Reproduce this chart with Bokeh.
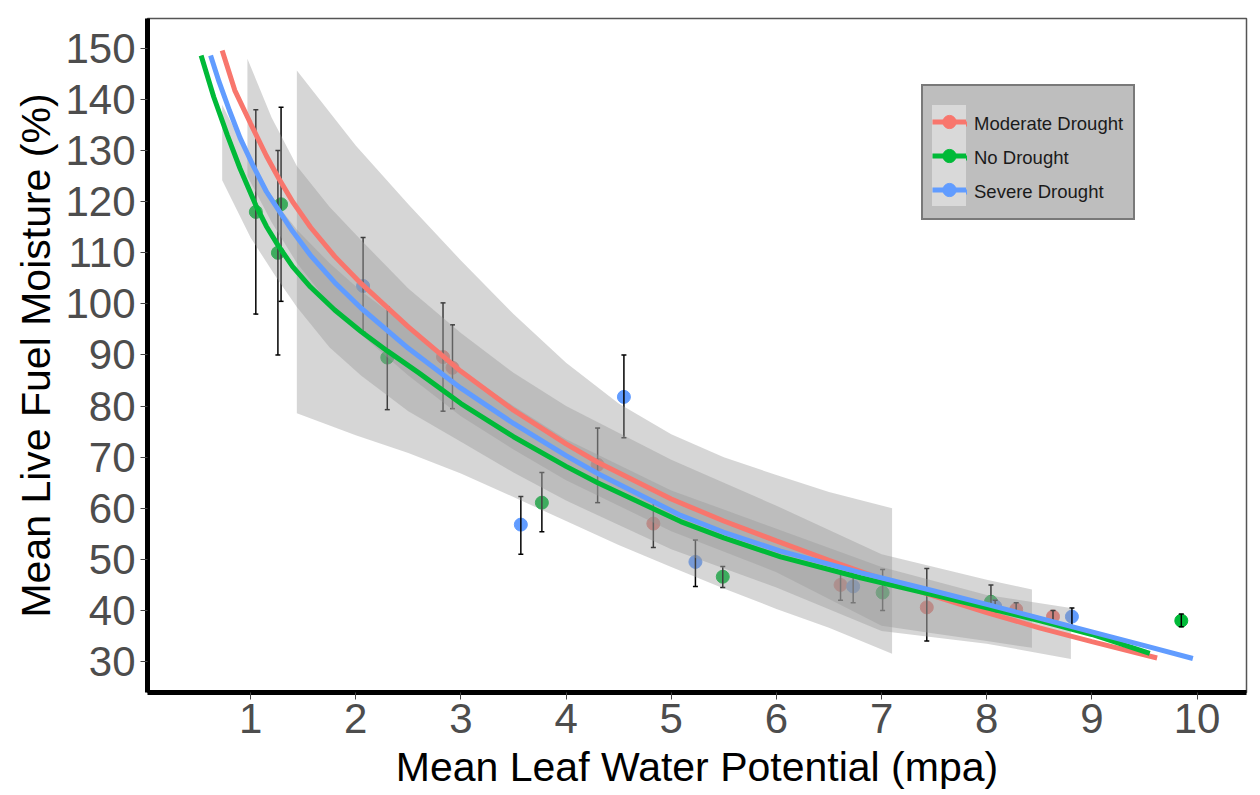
from bokeh.plotting import figure
from bokeh.models import FixedTicker, Legend, LegendItem, Range1d, BoxAnnotation
from bokeh.embed import file_html
from bokeh.resources import INLINE

# ---------------- data ----------------
x_ticks = [1, 2, 3, 4, 5, 6, 7, 8, 9, 10]
y_ticks = [30, 40, 50, 60, 70, 80, 90, 100, 110, 120, 130, 140, 150]

groups = ["Moderate Drought", "No Drought", "Severe Drought"]
colors = ["#F8766D", "#00BA38", "#619CFF"]

# observed means with error bars
mod_x = [2.83, 2.92, 4.30, 4.83, 6.61, 7.43, 8.28, 8.63]
mod_y = [89.6, 87.5, 68.5, 57.0, 45.0, 40.6, 40.2, 38.8]
mod_lo = [79.0, 79.5, 61.1, 52.3, 42.0, 34.0, 39.0, 37.5]
mod_hi = [100.2, 95.9, 75.7, 61.5, 47.5, 48.2, 41.5, 40.0]

no_x = [1.05, 1.26, 1.29, 2.30, 3.77, 5.49, 7.01, 8.04, 9.85]
no_y = [118.0, 110.0, 119.5, 89.5, 61.1, 46.6, 43.5, 41.7, 38.0]
no_lo = [98.0, 90.0, 100.5, 79.3, 55.4, 44.5, 40.0, 39.5, 36.8]
no_hi = [138.0, 130.0, 138.5, 99.4, 67.0, 48.6, 48.0, 45.0, 39.3]

sev_x = [2.07, 3.57, 4.55, 5.23, 6.73, 8.08, 8.81]
sev_y = [103.5, 56.8, 81.8, 49.5, 44.7, 40.8, 38.8]
sev_lo = [94.5, 51.0, 73.8, 44.7, 41.5, 39.5, 37.0]
sev_hi = [113.0, 62.3, 90.0, 53.8, 47.5, 42.0, 40.5]

# fitted curves
mod_fit_x = [0.73, 0.85, 1.0, 1.15, 1.27, 1.4, 1.57, 1.8, 2.05, 2.5, 3.0, 3.5, 4.0,
             4.3, 5.0, 5.5, 6.0, 6.5, 7.0, 7.5, 8.0, 8.5, 9.0, 9.62]
mod_fit_y = [149.6, 141.8, 135.3, 129.0, 124.5, 120.0, 115.0, 109.3, 104.0, 95.5,
             86.8, 79.2, 72.6, 69.0, 61.8, 57.5, 53.6, 49.8, 46.2, 42.8, 39.6, 36.6,
             33.9, 30.7]

no_fit_x = [0.53, 0.65, 0.78, 0.9, 1.05, 1.15, 1.26, 1.4, 1.57, 1.8, 2.05, 2.3, 2.6,
            3.0, 3.5, 4.0, 4.3, 5.09, 5.5, 6.04, 6.8, 7.5, 8.0, 8.5, 9.0, 9.55]
no_fit_y = [148.6, 140.5, 133.0, 126.5, 119.3, 115.2, 111.5, 107.3, 103.3, 98.8,
            94.6, 90.8, 86.5, 80.5, 74.0, 68.2, 65.0, 57.4, 54.2, 50.5, 46.4, 43.0,
            40.5, 38.0, 35.3, 31.6]

sev_fit_x = [0.62, 0.7, 0.8, 0.9, 1.03, 1.15, 1.29, 1.4, 1.57, 1.8, 2.05, 2.5, 3.0,
             3.5, 4.0, 4.3, 5.09, 5.5, 6.04, 6.8, 7.5, 8.0, 8.5, 9.0, 9.5, 9.96]
sev_fit_y = [148.6, 143.5, 137.8, 132.5, 126.8, 122.0, 117.6, 114.2, 109.5, 104.2,
             99.2, 91.3, 83.5, 76.6, 70.3, 66.8, 58.6, 55.3, 51.6, 47.4, 43.8, 41.2,
             38.5, 35.8, 33.1, 30.6]

# confidence ribbons
band_a_x = [1.44, 2.0, 2.5, 3.0, 3.5, 4.0, 4.5, 5.0, 5.5, 6.0, 6.5, 7.1]
band_a_lo = [78.6, 74.3, 70.8, 66.8, 62.2, 57.5, 52.8, 48.5, 44.3, 40.3, 36.6, 31.5]
band_a_hi = [145.7, 131.0, 119.5, 108.5, 98.0, 88.5, 80.5, 74.5, 70.0, 66.5, 63.2, 60.0]

band_b_x = [0.97, 1.2, 1.44, 1.75, 2.05, 2.5, 3.0, 3.5, 4.0, 5.0, 6.0, 7.0, 7.5, 8.0, 8.43]
band_b_lo = [125.0, 116.0, 108.0, 100.0, 94.0, 86.0, 78.0, 71.5, 65.5, 55.5, 47.5, 37.0,
             35.5, 34.0, 32.7]
band_b_hi = [148.0, 136.5, 127.0, 119.0, 112.5, 103.0, 94.3, 86.5, 80.0, 69.5, 60.5, 51.0,
             48.5, 46.0, 44.1]

band_c_x = [0.73, 1.0, 1.25, 1.44, 1.75, 2.05, 2.5, 3.0, 3.5, 4.0, 5.0, 6.0, 7.0, 8.0, 8.8]
band_c_lo = [124.2, 113.0, 105.0, 99.4, 91.5, 86.0, 79.0, 73.0, 67.0, 61.5, 52.0, 44.5,
             36.0, 33.5, 30.5]
band_c_hi = [139.0, 128.0, 119.5, 114.5, 108.0, 102.5, 95.5, 87.0, 80.0, 73.5, 63.5, 56.0,
             48.5, 43.0, 40.5]

# ---------------- figure ----------------
FONT = "Liberation Sans"

p = figure(width=1258, height=792,
           x_range=Range1d(0.02, 10.47), y_range=Range1d(23.94, 155.86),
           output_backend="svg", toolbar_location=None,
           min_border_left=147, min_border_right=12, min_border_top=18,
           min_border_bottom=99)
p.grid.visible = False
p.background_fill_color = "white"
p.border_fill_color = "white"
p.outline_line_color = "#555555"
p.outline_line_width = 1.5

# thin light frame round the whole picture
p.add_layout(BoxAnnotation(left=7, right=1255, top=7, bottom=800,
                           left_units="canvas", right_units="canvas",
                           top_units="canvas", bottom_units="canvas",
                           fill_color=None, line_color="#c8c8c8", line_width=1,
                           level="underlay"))

for ax in (p.xaxis[0], p.yaxis[0]):
    ax.axis_line_color = "black"
    ax.axis_line_width = 5
    ax.major_tick_line_color = "#444444"
    ax.major_tick_line_width = 1
    ax.major_tick_out = 7
    ax.major_tick_in = 0
    ax.minor_tick_line_color = None
    ax.major_label_text_font = FONT
    ax.major_label_text_font_size = "42px"
    ax.major_label_text_color = "#4d4d4d"
    ax.axis_label_text_font = FONT
    ax.axis_label_text_font_size = "41px"
    ax.axis_label_text_font_style = "normal"
    ax.axis_label_text_color = "black"

p.xaxis.ticker = FixedTicker(ticks=x_ticks)
p.yaxis.ticker = FixedTicker(ticks=y_ticks)
p.xaxis.axis_label = "Mean Leaf Water Potential (mpa)"
p.yaxis.axis_label = "Mean Live Fuel Moisture (%)"
p.xaxis.major_label_standoff = 4
p.xaxis.axis_label_standoff = 8
p.yaxis.major_label_standoff = 5
p.yaxis.axis_label_standoff = 3

# points (underneath everything)
pts = [(mod_x, mod_y, mod_lo, mod_hi), (no_x, no_y, no_lo, no_hi), (sev_x, sev_y, sev_lo, sev_hi)]
for (xs, ys, lo, hi), c in zip(pts, colors):
    p.scatter(xs, ys, size=13, fill_color=c, line_color=c)
for (xs, ys, lo, hi), c in zip(pts, colors):
    p.segment(x0=xs, y0=lo, x1=xs, y1=hi, line_color="black", line_width=1.5)
    p.scatter(xs, lo, marker="dash", size=5, line_color="black", line_width=1.5)
    p.scatter(xs, hi, marker="dash", size=5, line_color="black", line_width=1.5)

# ribbons
for bx, blo, bhi in [(band_a_x, band_a_lo, band_a_hi),
                     (band_b_x, band_b_lo, band_b_hi),
                     (band_c_x, band_c_lo, band_c_hi)]:
    p.varea(x=bx, y1=blo, y2=bhi, fill_color="#999999", fill_alpha=0.4)

# fitted lines
line_r = []
dot_r = []
for (fx, fy), c in zip([(mod_fit_x, mod_fit_y), (no_fit_x, no_fit_y), (sev_fit_x, sev_fit_y)], colors):
    line_r.append(p.line(fx, fy, line_color=c, line_width=5))
for (xs, ys, lo, hi), c in zip(pts, colors):
    r = p.scatter(xs[:1], ys[:1], size=13, fill_color=c, line_color=c)
    r.visible = False
    dot_r.append(r)

# legend: outer grey box with labels
legend_a = Legend(
    items=[LegendItem(label=g, renderers=[line_r[i], dot_r[i]]) for i, g in enumerate(groups)],
    location=(774, 472), orientation="vertical",
    title=" ", title_text_font_size="9px", title_standoff=1,
    background_fill_color="#bebebe", background_fill_alpha=1.0,
    border_line_color="#333333", border_line_width=2,
    label_text_font=FONT, label_text_font_size="18.5px", label_text_color="#1a1a1a",
    glyph_width=34, glyph_height=33, spacing=1, padding=10, label_standoff=7,
    label_width=147, margin=0,
)
# light key column
legend_b = Legend(
    items=[LegendItem(label=" ", renderers=[line_r[i], dot_r[i]]) for i, g in enumerate(groups)],
    location=(785, 486), orientation="vertical",
    background_fill_color="#d9d9d9", background_fill_alpha=1.0,
    border_line_color=None,
    label_text_font_size="1px", label_width=0, label_height=0,
    glyph_width=34, glyph_height=33, spacing=1, padding=0, label_standoff=0,
    margin=0,
)
p.add_layout(legend_a)
p.add_layout(legend_b)

open("out.html", "w").write(file_html(p, INLINE))
